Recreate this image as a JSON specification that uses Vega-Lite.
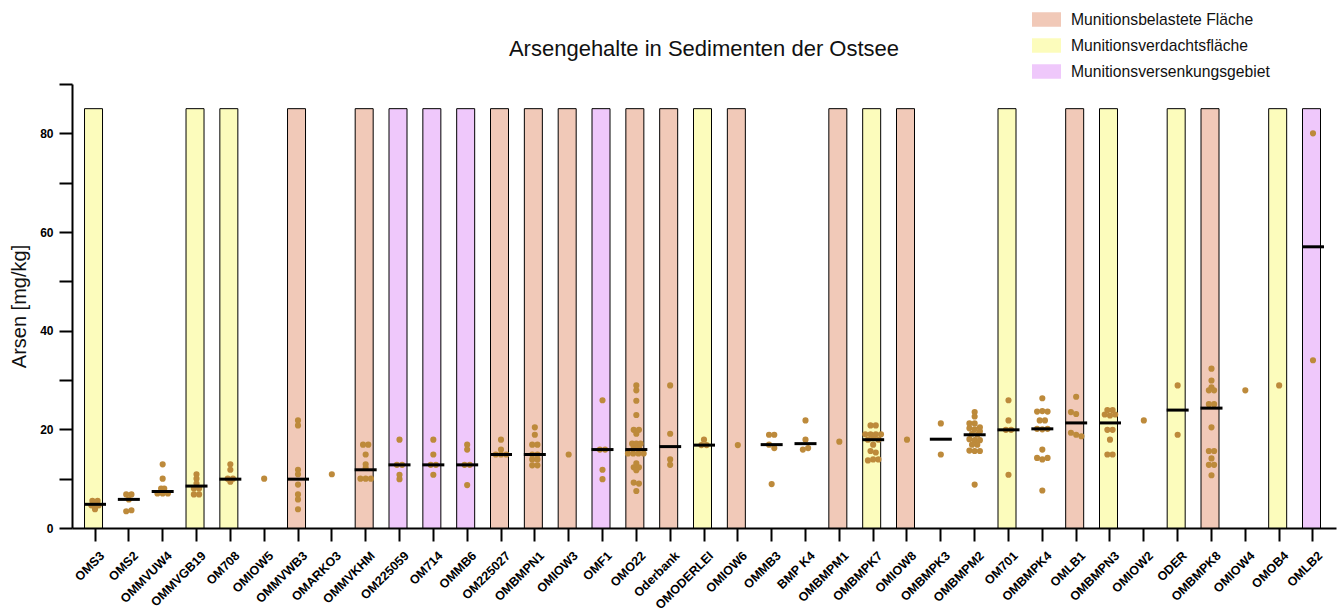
{
  "$schema": "https://vega.github.io/schema/vega-lite/v6.json",
  "width": 1264,
  "height": 444,
  "autosize": "none",
  "padding": {"left": 72, "top": 84, "right": 1, "bottom": 84},
  "background": "white",
  "title": {"text": "Arsengehalte in Sedimenten der Ostsee", "fontSize": 22, "fontWeight": "normal", "font": "Liberation Sans", "color": "#111111", "anchor": "middle", "offset": 0, "dy": 56},
  "config": {
    "view": {"stroke": null},
    "font": "Liberation Sans"
  },
  "datasets": {
    "bars": [
      {"c": "OMS3", "v": 85, "t": "Munitionsverdachtsfläche"},
      {"c": "OMMVGB19", "v": 85, "t": "Munitionsverdachtsfläche"},
      {"c": "OM708", "v": 85, "t": "Munitionsverdachtsfläche"},
      {"c": "OMMVWB3", "v": 85, "t": "Munitionsbelastete Fläche"},
      {"c": "OMMVKHM", "v": 85, "t": "Munitionsbelastete Fläche"},
      {"c": "OM225059", "v": 85, "t": "Munitionsversenkungsgebiet"},
      {"c": "OM714", "v": 85, "t": "Munitionsversenkungsgebiet"},
      {"c": "OMMB6", "v": 85, "t": "Munitionsversenkungsgebiet"},
      {"c": "OM225027", "v": 85, "t": "Munitionsbelastete Fläche"},
      {"c": "OMBMPN1", "v": 85, "t": "Munitionsbelastete Fläche"},
      {"c": "OMIOW3", "v": 85, "t": "Munitionsbelastete Fläche"},
      {"c": "OMF1", "v": 85, "t": "Munitionsversenkungsgebiet"},
      {"c": "OMO22", "v": 85, "t": "Munitionsbelastete Fläche"},
      {"c": "Oderbank", "v": 85, "t": "Munitionsbelastete Fläche"},
      {"c": "OMODERLEI", "v": 85, "t": "Munitionsverdachtsfläche"},
      {"c": "OMIOW6", "v": 85, "t": "Munitionsbelastete Fläche"},
      {"c": "OMBMPM1", "v": 85, "t": "Munitionsbelastete Fläche"},
      {"c": "OMBMPK7", "v": 85, "t": "Munitionsverdachtsfläche"},
      {"c": "OMIOW8", "v": 85, "t": "Munitionsbelastete Fläche"},
      {"c": "OM701", "v": 85, "t": "Munitionsverdachtsfläche"},
      {"c": "OMLB1", "v": 85, "t": "Munitionsbelastete Fläche"},
      {"c": "OMBMPN3", "v": 85, "t": "Munitionsverdachtsfläche"},
      {"c": "ODER", "v": 85, "t": "Munitionsverdachtsfläche"},
      {"c": "OMBMPK8", "v": 85, "t": "Munitionsbelastete Fläche"},
      {"c": "OMOB4", "v": 85, "t": "Munitionsverdachtsfläche"},
      {"c": "OMLB2", "v": 85, "t": "Munitionsversenkungsgebiet"}
    ],
    "med": [
      {"c": "OMS3", "v": 4.8}, {"c": "OMS2", "v": 5.8}, {"c": "OMMVUW4", "v": 7.4}, {"c": "OMMVGB19", "v": 8.5},
      {"c": "OM708", "v": 9.9}, {"c": "OMMVWB3", "v": 9.9}, {"c": "OMMVKHM", "v": 11.8}, {"c": "OM225059", "v": 12.8},
      {"c": "OM714", "v": 12.8}, {"c": "OMMB6", "v": 12.8}, {"c": "OM225027", "v": 14.9}, {"c": "OMBMPN1", "v": 14.9},
      {"c": "OMF1", "v": 15.9}, {"c": "OMO22", "v": 15.9}, {"c": "Oderbank", "v": 16.5}, {"c": "OMODERLEI", "v": 16.8},
      {"c": "OMMB3", "v": 16.9}, {"c": "BMP K4", "v": 17.1}, {"c": "OMBMPK7", "v": 17.9}, {"c": "OMBMPK3", "v": 18.0},
      {"c": "OMBMPM2", "v": 18.9}, {"c": "OM701", "v": 19.9}, {"c": "OMBMPK4", "v": 20.1}, {"c": "OMLB1", "v": 21.3},
      {"c": "OMBMPN3", "v": 21.3}, {"c": "ODER", "v": 23.9}, {"c": "OMBMPK8", "v": 24.3}, {"c": "OMLB2", "v": 57.0}
    ],
    "pts": [
      {"c": "OMS3", "v": 5.5, "s": -0.5}, {"c": "OMS3", "v": 5.5, "s": 0.5}, {"c": "OMS3", "v": 5.0, "s": 0}, {"c": "OMS3", "v": 4.6, "s": -0.7}, {"c": "OMS3", "v": 4.6, "s": 0.7}, {"c": "OMS3", "v": 4.2, "s": 0}, {"c": "OMS3", "v": 3.8, "s": 0},
      {"c": "OMS2", "v": 6.8, "s": -0.5}, {"c": "OMS2", "v": 6.8, "s": 0.5}, {"c": "OMS2", "v": 5.8, "s": 0}, {"c": "OMS2", "v": 3.4, "s": -0.5}, {"c": "OMS2", "v": 3.6, "s": 0.5},
      {"c": "OMMVUW4", "v": 12.9, "s": 0}, {"c": "OMMVUW4", "v": 10.0, "s": 0}, {"c": "OMMVUW4", "v": 8.0, "s": -0.3}, {"c": "OMMVUW4", "v": 8.0, "s": 0.3}, {"c": "OMMVUW4", "v": 7.0, "s": -1}, {"c": "OMMVUW4", "v": 7.0, "s": 0}, {"c": "OMMVUW4", "v": 7.0, "s": 1},
      {"c": "OMMVGB19", "v": 10.9, "s": 0}, {"c": "OMMVGB19", "v": 10.0, "s": 0}, {"c": "OMMVGB19", "v": 9.0, "s": 0}, {"c": "OMMVGB19", "v": 8.0, "s": -0.5}, {"c": "OMMVGB19", "v": 8.0, "s": 0.5}, {"c": "OMMVGB19", "v": 6.8, "s": -0.5}, {"c": "OMMVGB19", "v": 6.8, "s": 0.5},
      {"c": "OM708", "v": 12.9, "s": 0}, {"c": "OM708", "v": 11.8, "s": 0}, {"c": "OM708", "v": 10.0, "s": -0.5}, {"c": "OM708", "v": 10.0, "s": 0.5}, {"c": "OM708", "v": 9.4, "s": 0},
      {"c": "OMIOW5", "v": 10.0, "s": 0},
      {"c": "OMMVWB3", "v": 21.8, "s": 0}, {"c": "OMMVWB3", "v": 20.8, "s": 0}, {"c": "OMMVWB3", "v": 11.8, "s": 0}, {"c": "OMMVWB3", "v": 10.9, "s": 0}, {"c": "OMMVWB3", "v": 8.8, "s": 0}, {"c": "OMMVWB3", "v": 6.8, "s": 0}, {"c": "OMMVWB3", "v": 5.8, "s": 0}, {"c": "OMMVWB3", "v": 3.8, "s": 0},
      {"c": "OMARKO3", "v": 10.9, "s": 0},
      {"c": "OMMVKHM", "v": 16.9, "s": -0.5}, {"c": "OMMVKHM", "v": 16.9, "s": 0.5}, {"c": "OMMVKHM", "v": 14.9, "s": 0}, {"c": "OMMVKHM", "v": 12.9, "s": 0}, {"c": "OMMVKHM", "v": 12.2, "s": 0}, {"c": "OMMVKHM", "v": 10.0, "s": -1}, {"c": "OMMVKHM", "v": 10.0, "s": 0}, {"c": "OMMVKHM", "v": 10.0, "s": 1},
      {"c": "OM225059", "v": 17.9, "s": 0}, {"c": "OM225059", "v": 12.8, "s": -0.5}, {"c": "OM225059", "v": 12.8, "s": 0.5}, {"c": "OM225059", "v": 10.8, "s": 0}, {"c": "OM225059", "v": 9.9, "s": 0},
      {"c": "OM714", "v": 17.9, "s": 0}, {"c": "OM714", "v": 14.9, "s": 0}, {"c": "OM714", "v": 12.8, "s": -0.5}, {"c": "OM714", "v": 12.8, "s": 0.5}, {"c": "OM714", "v": 10.8, "s": 0},
      {"c": "OMMB6", "v": 16.9, "s": 0}, {"c": "OMMB6", "v": 15.9, "s": 0}, {"c": "OMMB6", "v": 12.8, "s": -0.5}, {"c": "OMMB6", "v": 12.8, "s": 0.5}, {"c": "OMMB6", "v": 8.7, "s": 0},
      {"c": "OM225027", "v": 17.9, "s": 0}, {"c": "OM225027", "v": 15.9, "s": 0}, {"c": "OM225027", "v": 14.9, "s": -1}, {"c": "OM225027", "v": 14.9, "s": 0}, {"c": "OM225027", "v": 14.9, "s": 1},
      {"c": "OMBMPN1", "v": 20.4, "s": 0}, {"c": "OMBMPN1", "v": 18.9, "s": 0}, {"c": "OMBMPN1", "v": 16.9, "s": -0.5}, {"c": "OMBMPN1", "v": 16.9, "s": 0.5}, {"c": "OMBMPN1", "v": 14.9, "s": -0.5}, {"c": "OMBMPN1", "v": 14.9, "s": 0.5}, {"c": "OMBMPN1", "v": 13.9, "s": -0.5}, {"c": "OMBMPN1", "v": 13.9, "s": 0.5}, {"c": "OMBMPN1", "v": 12.7, "s": -0.5}, {"c": "OMBMPN1", "v": 12.7, "s": 0.5},
      {"c": "OMIOW3", "v": 14.9, "s": 0},
      {"c": "OMF1", "v": 25.9, "s": 0}, {"c": "OMF1", "v": 15.9, "s": -0.5}, {"c": "OMF1", "v": 15.9, "s": 0.5}, {"c": "OMF1", "v": 11.8, "s": 0}, {"c": "OMF1", "v": 9.9, "s": 0},
      {"c": "OMO22", "v": 28.9, "s": 0}, {"c": "OMO22", "v": 27.9, "s": 0}, {"c": "OMO22", "v": 25.8, "s": 0}, {"c": "OMO22", "v": 22.9, "s": 0}, {"c": "OMO22", "v": 19.9, "s": -0.5}, {"c": "OMO22", "v": 19.9, "s": 0.5}, {"c": "OMO22", "v": 19.1, "s": 0}, {"c": "OMO22", "v": 17.1, "s": -0.8}, {"c": "OMO22", "v": 17.1, "s": 0}, {"c": "OMO22", "v": 17.1, "s": 0.8}, {"c": "OMO22", "v": 16.2, "s": -0.5}, {"c": "OMO22", "v": 16.2, "s": 0.5}, {"c": "OMO22", "v": 15.1, "s": -1.6}, {"c": "OMO22", "v": 15.1, "s": -0.6}, {"c": "OMO22", "v": 15.1, "s": 0.4}, {"c": "OMO22", "v": 15.1, "s": 1.4}, {"c": "OMO22", "v": 13.1, "s": 0}, {"c": "OMO22", "v": 12.3, "s": -0.5}, {"c": "OMO22", "v": 12.3, "s": 0.5}, {"c": "OMO22", "v": 11.7, "s": 0}, {"c": "OMO22", "v": 9.2, "s": -0.5}, {"c": "OMO22", "v": 9.0, "s": 0.5}, {"c": "OMO22", "v": 7.5, "s": 0},
      {"c": "Oderbank", "v": 28.9, "s": 0}, {"c": "Oderbank", "v": 19.1, "s": 0}, {"c": "Oderbank", "v": 13.9, "s": 0}, {"c": "Oderbank", "v": 12.8, "s": 0},
      {"c": "OMODERLEI", "v": 17.9, "s": 0}, {"c": "OMODERLEI", "v": 16.8, "s": -0.5}, {"c": "OMODERLEI", "v": 16.8, "s": 0.5},
      {"c": "OMIOW6", "v": 16.8, "s": 0},
      {"c": "OMMB3", "v": 18.9, "s": -0.5}, {"c": "OMMB3", "v": 18.9, "s": 0.5}, {"c": "OMMB3", "v": 16.9, "s": -0.5}, {"c": "OMMB3", "v": 16.2, "s": 0.5}, {"c": "OMMB3", "v": 8.9, "s": 0},
      {"c": "BMP K4", "v": 21.8, "s": 0}, {"c": "BMP K4", "v": 17.9, "s": 0}, {"c": "BMP K4", "v": 16.2, "s": 0.5}, {"c": "BMP K4", "v": 15.9, "s": -0.5},
      {"c": "OMBMPM1", "v": 17.5, "s": 0},
      {"c": "OMBMPK7", "v": 20.8, "s": -0.5}, {"c": "OMBMPK7", "v": 20.8, "s": 0.5}, {"c": "OMBMPK7", "v": 19.0, "s": -1.5}, {"c": "OMBMPK7", "v": 19.0, "s": -0.5}, {"c": "OMBMPK7", "v": 19.0, "s": 0.5}, {"c": "OMBMPK7", "v": 19.0, "s": 1.5}, {"c": "OMBMPK7", "v": 18.3, "s": 0}, {"c": "OMBMPK7", "v": 17.9, "s": -1}, {"c": "OMBMPK7", "v": 17.9, "s": 1}, {"c": "OMBMPK7", "v": 16.9, "s": 0}, {"c": "OMBMPK7", "v": 15.6, "s": -0.5}, {"c": "OMBMPK7", "v": 15.3, "s": 0.5}, {"c": "OMBMPK7", "v": 13.7, "s": -1}, {"c": "OMBMPK7", "v": 13.9, "s": 0}, {"c": "OMBMPK7", "v": 13.9, "s": 1},
      {"c": "OMIOW8", "v": 17.9, "s": 0},
      {"c": "OMBMPK3", "v": 21.2, "s": 0}, {"c": "OMBMPK3", "v": 14.9, "s": 0},
      {"c": "OMBMPM2", "v": 23.5, "s": 0}, {"c": "OMBMPM2", "v": 22.6, "s": 0}, {"c": "OMBMPM2", "v": 21.2, "s": -1}, {"c": "OMBMPM2", "v": 21.2, "s": 0}, {"c": "OMBMPM2", "v": 20.4, "s": 1}, {"c": "OMBMPM2", "v": 20.2, "s": -1}, {"c": "OMBMPM2", "v": 20.0, "s": 0}, {"c": "OMBMPM2", "v": 19.6, "s": 1}, {"c": "OMBMPM2", "v": 19.1, "s": -0.5}, {"c": "OMBMPM2", "v": 18.9, "s": 0.5}, {"c": "OMBMPM2", "v": 18.0, "s": -1}, {"c": "OMBMPM2", "v": 17.8, "s": 0}, {"c": "OMBMPM2", "v": 17.8, "s": 1}, {"c": "OMBMPM2", "v": 16.9, "s": -0.5}, {"c": "OMBMPM2", "v": 16.9, "s": 0.5}, {"c": "OMBMPM2", "v": 15.7, "s": -1}, {"c": "OMBMPM2", "v": 15.6, "s": 0}, {"c": "OMBMPM2", "v": 15.6, "s": 1}, {"c": "OMBMPM2", "v": 8.8, "s": 0},
      {"c": "OM701", "v": 25.9, "s": 0}, {"c": "OM701", "v": 21.8, "s": 0}, {"c": "OM701", "v": 19.9, "s": -0.5}, {"c": "OM701", "v": 19.9, "s": 0.5}, {"c": "OM701", "v": 10.8, "s": 0},
      {"c": "OMBMPK4", "v": 26.3, "s": 0}, {"c": "OMBMPK4", "v": 23.6, "s": -1}, {"c": "OMBMPK4", "v": 23.7, "s": 0}, {"c": "OMBMPK4", "v": 23.6, "s": 1}, {"c": "OMBMPK4", "v": 21.8, "s": -0.5}, {"c": "OMBMPK4", "v": 21.8, "s": 0.5}, {"c": "OMBMPK4", "v": 20.1, "s": -1}, {"c": "OMBMPK4", "v": 20.0, "s": 0}, {"c": "OMBMPK4", "v": 20.1, "s": 1}, {"c": "OMBMPK4", "v": 15.9, "s": 0}, {"c": "OMBMPK4", "v": 14.2, "s": -1}, {"c": "OMBMPK4", "v": 13.9, "s": 0}, {"c": "OMBMPK4", "v": 14.2, "s": 1}, {"c": "OMBMPK4", "v": 7.6, "s": 0},
      {"c": "OMLB1", "v": 26.6, "s": 0}, {"c": "OMLB1", "v": 23.5, "s": -1}, {"c": "OMLB1", "v": 23.1, "s": 0}, {"c": "OMLB1", "v": 19.3, "s": -1}, {"c": "OMLB1", "v": 18.9, "s": 0}, {"c": "OMLB1", "v": 18.6, "s": 1},
      {"c": "OMBMPN3", "v": 23.9, "s": -0.5}, {"c": "OMBMPN3", "v": 23.9, "s": 0.5}, {"c": "OMBMPN3", "v": 23.0, "s": -1}, {"c": "OMBMPN3", "v": 22.8, "s": 0}, {"c": "OMBMPN3", "v": 23.0, "s": 1}, {"c": "OMBMPN3", "v": 19.9, "s": -0.5}, {"c": "OMBMPN3", "v": 19.9, "s": 0.5}, {"c": "OMBMPN3", "v": 17.9, "s": 0}, {"c": "OMBMPN3", "v": 14.9, "s": -0.5}, {"c": "OMBMPN3", "v": 14.9, "s": 0.5},
      {"c": "OMIOW2", "v": 21.8, "s": 0},
      {"c": "ODER", "v": 28.9, "s": 0}, {"c": "ODER", "v": 18.9, "s": 0},
      {"c": "OMBMPK8", "v": 32.3, "s": 0}, {"c": "OMBMPK8", "v": 29.9, "s": 0}, {"c": "OMBMPK8", "v": 28.5, "s": 0}, {"c": "OMBMPK8", "v": 27.9, "s": -0.5}, {"c": "OMBMPK8", "v": 27.9, "s": 0.5}, {"c": "OMBMPK8", "v": 25.1, "s": -0.5}, {"c": "OMBMPK8", "v": 25.1, "s": 0.5}, {"c": "OMBMPK8", "v": 20.4, "s": 0}, {"c": "OMBMPK8", "v": 15.6, "s": -0.5}, {"c": "OMBMPK8", "v": 15.6, "s": 0.5}, {"c": "OMBMPK8", "v": 14.1, "s": 0}, {"c": "OMBMPK8", "v": 12.8, "s": -0.5}, {"c": "OMBMPK8", "v": 12.8, "s": 0.5}, {"c": "OMBMPK8", "v": 10.7, "s": 0},
      {"c": "OMIOW4", "v": 27.9, "s": 0},
      {"c": "OMOB4", "v": 28.9, "s": 0},
      {"c": "OMLB2", "v": 80.0, "s": 0}, {"c": "OMLB2", "v": 34.0, "s": 0}
    ]
  },
  "layer": [
    {
      "data": {"name": "bars"},
      "mark": {"type": "bar", "stroke": "black", "strokeWidth": 1},
      "encoding": {
        "x": {
          "field": "c", "type": "nominal",
          "scale": {
            "domain": ["OMS3", "OMS2", "OMMVUW4", "OMMVGB19", "OM708", "OMIOW5", "OMMVWB3", "OMARKO3", "OMMVKHM", "OM225059", "OM714", "OMMB6", "OM225027", "OMBMPN1", "OMIOW3", "OMF1", "OMO22", "Oderbank", "OMODERLEI", "OMIOW6", "OMMB3", "BMP K4", "OMBMPM1", "OMBMPK7", "OMIOW8", "OMBMPK3", "OMBMPM2", "OM701", "OMBMPK4", "OMLB1", "OMBMPN3", "OMIOW2", "ODER", "OMBMPK8", "OMIOW4", "OMOB4", "OMLB2"],
            "paddingInner": 0.38, "paddingOuter": 0.37
          },
          "axis": {
            "title": null, "labelAngle": -45, "labelFont": "Liberation Sans", "labelFontSize": 12.5, "labelFontWeight": "bold", "labelColor": "black",
            "domainColor": "black", "domainWidth": 2, "tickColor": "black", "tickWidth": 2, "tickSize": 13, "labelPadding": 8, "labelOffset": 3, "grid": false
          }
        },
        "y": {
          "field": "v", "type": "quantitative",
          "scale": {"domain": [0, 90], "nice": false},
          "axis": {
            "title": "Arsen [mg/kg]", "titleFont": "Liberation Sans", "titleFontSize": 20, "titleFontWeight": "normal", "titleColor": "#111111", "titlePadding": 10,
            "values": [0, 10, 20, 30, 40, 50, 60, 70, 80, 90],
            "labelExpr": "datum.value % 20 === 0 && datum.value < 90 ? datum.label : ''",
            "labelFont": "Liberation Sans", "labelFontSize": 12, "labelFontWeight": "bold", "labelColor": "black", "labelPadding": 6,
            "domainColor": "black", "domainWidth": 2, "tickColor": "black", "tickWidth": 2, "tickSize": 13, "grid": false,
            "encode": {"ticks": {"update": {"x2": {"signal": "datum.value % 20 === 0 && datum.value < 90 ? -13 : -7"}}}}
          }
        },
        "color": {
          "field": "t", "type": "nominal",
          "scale": {"domain": ["Munitionsbelastete Fläche", "Munitionsverdachtsfläche", "Munitionsversenkungsgebiet"], "range": ["#F1C9B8", "#FCFCBC", "#EFC8FB"]},
          "legend": {
            "title": null, "orient": "none", "legendX": 960, "legendY": -79,
            "symbolType": "M-1,-0.5H1V0.5H-1Z", "symbolSize": 841, "symbolStrokeWidth": 0, "symbolOpacity": 1,
            "labelFont": "Liberation Sans", "labelFontSize": 15.7, "labelColor": "#111111", "labelOffset": 10, "labelLimit": 400, "rowPadding": 3
          }
        }
      }
    },
    {
      "data": {"name": "pts"},
      "mark": {"type": "circle", "size": 38, "color": "#BD8A3B", "opacity": 1},
      "encoding": {
        "x": {"field": "c", "type": "nominal"},
        "xOffset": {"field": "s", "type": "quantitative", "scale": {"domain": [-2, 2], "range": [0, 20.97]}},
        "y": {"field": "v", "type": "quantitative"}
      }
    },
    {
      "data": {"name": "med"},
      "mark": {"type": "tick", "orient": "horizontal", "thickness": 3, "size": 22, "color": "black", "opacity": 1},
      "encoding": {
        "x": {"field": "c", "type": "nominal"},
        "y": {"field": "v", "type": "quantitative"}
      }
    }
  ]
}
